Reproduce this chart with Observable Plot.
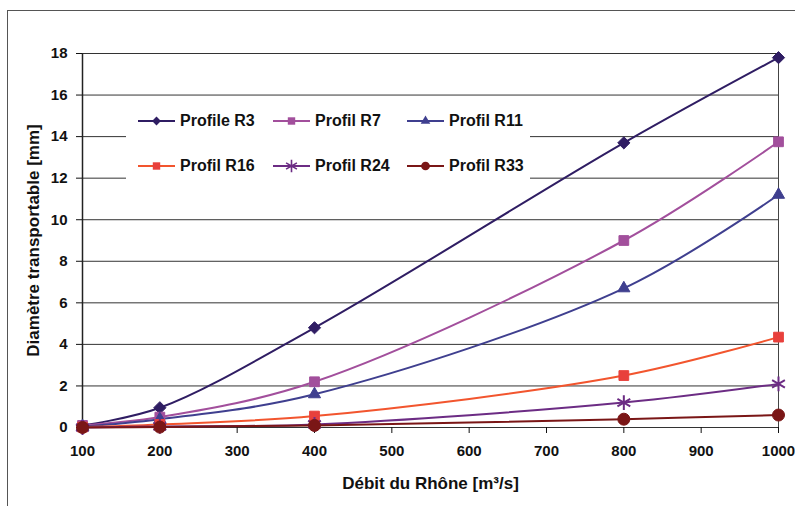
<!DOCTYPE html>
<html>
<head>
<meta charset="utf-8">
<script src="https://cdn.jsdelivr.net/npm/d3@7"></script>
<script src="https://cdn.jsdelivr.net/npm/@observablehq/plot@0.6"></script>
<style>
  html, body { margin: 0; padding: 0; background: #fff; }
  #wrap { position: relative; width: 795px; height: 506px; overflow: hidden; font-family: "Liberation Sans", Arial, sans-serif; }
  #frame { position: absolute; left: 7px; top: 10px; right: -5px; bottom: -5px; border-left: 1px solid #555; border-top: 1px solid #555; pointer-events: none; }
  #legend { position: absolute; left: 126px; top: 100px; width: 404px; height: 86px; background: #fff; }
  .item { position: absolute; display: flex; align-items: center; font-weight: bold; font-size: 16px; color: #111; }
  .item svg { margin-right: 4px; }
</style>
</head>
<body>
<div id="wrap"><div id="frame"></div></div>
<script>
// Data
const debit = [100, 200, 400, 800, 1000];
const seriesNames = ["Profile R3", "Profil R7", "Profil R11", "Profil R16", "Profil R24", "Profil R33"];
const r3  = [0.1, 0.95, 4.8, 13.7, 17.8];
const r7  = [0.1, 0.5, 2.2, 9.0, 13.75];
const r11 = [0.05, 0.4, 1.6, 6.7, 11.2];
const r16 = [0.02, 0.15, 0.55, 2.5, 4.35];
const r24 = [0.0, 0.05, 0.15, 1.2, 2.1];
const r33 = [0.0, 0.02, 0.1, 0.4, 0.6];
const xTicks = [100, 200, 300, 400, 500, 600, 700, 800, 900, 1000];
const yTicks = [0, 2, 4, 6, 8, 10, 12, 14, 16, 18];
const xLabel = "Débit du Rhône [m³/s]";
const yLabel = "Diamètre transportable [mm]";

const lineColors   = ["#2f1d63", "#a24f9c", "#3f3f8f", "#f2552e", "#6c2c84", "#7a1616"];
const markerColors = ["#2f1d63", "#a24f9c", "#3f3f8f", "#e8403c", "#6c2c84", "#7a1616"];
const symbolsFinal = ["diamond2", "square", "triangle", "square", "asterisk", "circle"];
const radii = [5.5, 5.5, 4.5, 5.5, 7, 6];

const values = [r3, r7, r11, r16, r24, r33];
const rows = [];
seriesNames.forEach((name, i) => {
  debit.forEach((x, j) => rows.push({series: name, idx: i, x, y: values[i][j]}));
});

const marks = [
  Plot.ruleY(yTicks, {stroke: "#333", strokeWidth: 1}),
  Plot.ruleX([1000], {y1: 0, y2: 18, stroke: "#444", strokeWidth: 1}),
  Plot.ruleX([100], {y1: 0, y2: 18, stroke: "#222", strokeWidth: 1.5}),
  Plot.axisY({ticks: yTicks, tickSize: 6, tickPadding: 9, fontSize: 15, fontWeight: "bold", tickFormat: d => String(d), label: null}),
  Plot.axisX({ticks: xTicks, tickSize: 6, tickPadding: 12, fontSize: 15, fontWeight: "bold", tickFormat: d => String(d), label: null}),
  Plot.text([yLabel], {frameAnchor: "left", textAnchor: "middle", lineAnchor: "middle", rotate: -90, dx: -49, fontSize: 17, fontWeight: "bold", fill: "#111"}),
  Plot.text([xLabel], {frameAnchor: "bottom", textAnchor: "middle", lineAnchor: "middle", dy: 56, fontSize: 17, fontWeight: "bold", fill: "#111"})
];
seriesNames.forEach((name, i) => {
  const d = rows.filter(r => r.idx === i);
  marks.push(Plot.line(d, {x: "x", y: "y", stroke: lineColors[i], strokeWidth: 2, curve: "catmull-rom"}));
});
seriesNames.forEach((name, i) => {
  const d = rows.filter(r => r.idx === i);
  const sym = symbolsFinal[i];
  if (sym === "asterisk") {
    marks.push(Plot.dot(d, {x: "x", y: "y", symbol: sym, r: radii[i], stroke: markerColors[i], strokeWidth: 2}));
  } else {
    marks.push(Plot.dot(d, {x: "x", y: "y", symbol: sym, r: radii[i], fill: markerColors[i], stroke: markerColors[i], strokeWidth: 1}));
  }
});

const chart = Plot.plot({
  width: 795,
  height: 506,
  marginLeft: 82,
  marginRight: 17,
  marginTop: 53,
  marginBottom: 79,
  x: {domain: [100, 1000]},
  y: {domain: [0, 18]},
  style: {fontFamily: "'Liberation Sans', Arial, sans-serif", fontSize: "15px", fontWeight: "bold", color: "#111", background: "transparent"},
  marks
});
document.getElementById("wrap").appendChild(chart);

// Legend overlay (inside plot area, white box)
const legend = document.createElement("div");
legend.id = "legend";
document.getElementById("wrap").appendChild(legend);
const colX = [12, 147, 281];
const rowY = [21, 66];
const typeMap = {diamond2: d3.symbolDiamond2, square: d3.symbolSquare, triangle: d3.symbolTriangle, asterisk: d3.symbolAsterisk, circle: d3.symbolCircle};
seriesNames.forEach((name, i) => {
  const it = document.createElement("div");
  it.className = "item";
  it.style.left = colX[i % 3] + "px";
  it.style.top = (rowY[Math.floor(i / 3)] - 10) + "px";
  const svg = d3.create("svg").attr("width", 38).attr("height", 20);
  svg.append("line").attr("x1", 0).attr("x2", 37).attr("y1", 10).attr("y2", 10)
    .attr("stroke", lineColors[i]).attr("stroke-width", 2);
  const sym = symbolsFinal[i];
  const size = [50, 55, 40, 55, 110, 60][i];
  const p = svg.append("path").attr("transform", "translate(18.5,10)")
    .attr("d", d3.symbol(typeMap[sym], size)());
  if (sym === "asterisk") p.attr("fill", "none").attr("stroke", markerColors[i]).attr("stroke-width", 1.6);
  else p.attr("fill", markerColors[i]);
  it.appendChild(svg.node());
  const t = document.createElement("span");
  t.textContent = name;
  it.appendChild(t);
  legend.appendChild(it);
});
</script>
</body>
</html>
